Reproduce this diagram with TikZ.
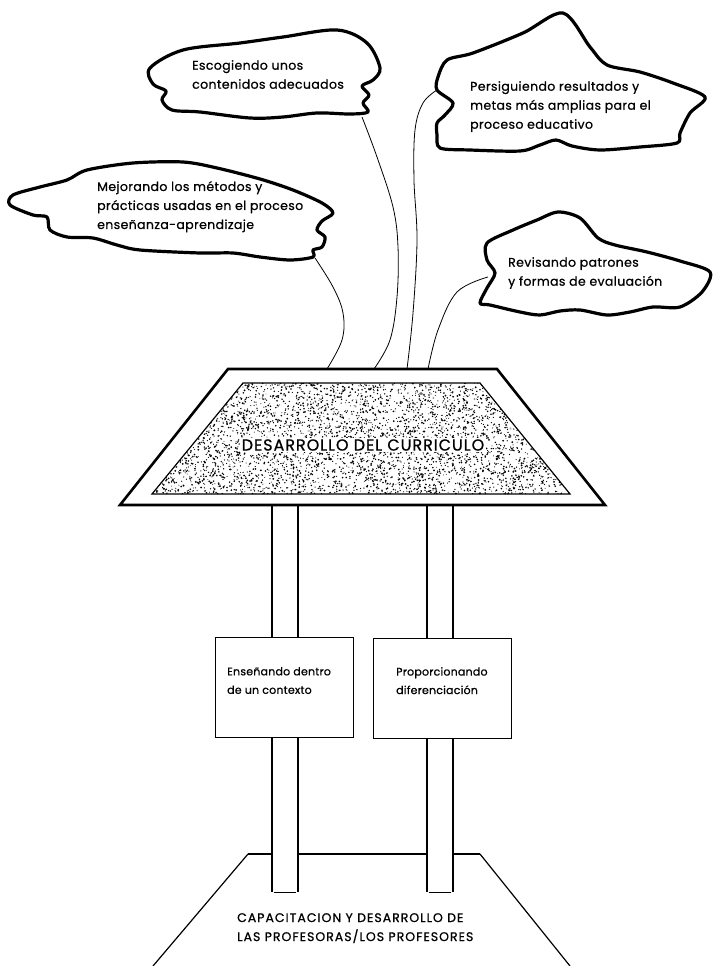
\documentclass[tikz,border=0pt]{standalone}
\usepackage{fontspec}
\setmainfont{Poppins}[FakeBold=0.7]
\begin{document}
\begin{tikzpicture}[x=1pt,y=-1pt,
  cloud/.style={line width=3.2pt, line join=round, line cap=round},
  link/.style={line width=0.8pt},
  txt/.style={font=\fontsize{12.5}{19}\selectfont\addfontfeature{LetterSpace=3}, align=left, anchor=north west, inner sep=0pt},
  boxtxt/.style={font=\fontsize{11}{18.5}\selectfont\addfontfeature{LetterSpace=2}, align=left, anchor=north west, inner sep=0pt},
  pillarside/.style={line width=1.8pt},
  plate/.style={draw, line width=1.4pt, fill=white},
  rim/.style={line width=2.6pt, line join=miter},
  thin/.style={line width=1.2pt}]
\useasboundingbox (0,0) rectangle (713,966);
\fill[white] (0,0) rectangle (713,966);

% ---------- clouds ----------
\draw[cloud] plot[smooth cycle, tension=0.55] coordinates {
 (150,68) (183,50) (240,43) (283,37) (337,30) (367,43) (380,68) (373,80)
 (362,86) (369,95) (363,103) (368,112) (350,114) (317,113) (283,117)
 (250,118) (200,112) (172,110) (162,100) (166,91) (153,84)};
\draw[cloud] plot[smooth cycle, tension=0.5] coordinates {
 (563,13) (590,47) (607,65) (640,72) (673,83) (705,97) (690,113) (680,133)
 (677,143) (640,147) (600,150) (572,146) (556,140) (540,145) (520,151)
 (470,150) (440,148) (437,135) (437,123) (445,115) (453,103) (437,90)
 (438,77) (447,60) (473,53) (523,33)};
\draw[cloud] plot[smooth cycle, tension=0.5] coordinates {
 (13,195) (40,187) (67,180) (87,170) (133,163) (183,162) (217,168)
 (260,179) (293,190) (322,203) (333,213) (322,221) (317,230) (325,237)
 (322,247) (313,250) (313,257) (290,260) (260,257) (233,253) (200,253)
 (140,250) (117,245) (93,238) (67,237) (50,230) (47,217) (33,215) (10,205)};
\draw[cloud] plot[smooth cycle, tension=0.5] coordinates {
 (537,220) (558,212) (580,218) (598,238) (615,245) (647,252) (680,261)
 (710,272) (702,292) (680,307) (653,307) (630,312) (607,315) (580,310)
 (560,311) (540,315) (520,312) (490,305) (480,303) (487,288) (495,273)
 (487,260) (487,243) (513,230)};

\node[txt] (t1) at (192,60) {Escogiendo unos\\contenidos adecuados};
\node[txt] (t2) at (470,81) {Persiguiendo resultados y\\metas más amplias para el\\proceso educativo};
\node[txt] (t3) at (97,181) {Mejorando los métodos y\\prácticas usadas en el proceso\\enseñanza-aprendizaje};
\node[txt] (t4) at (508,257) {Revisando patrones\\y formas de evaluación};

% ---------- connector ends ----------
\coordinate (c1) at (362,117);
\coordinate (c2) at (437,90);
\coordinate (c3) at (315,258);
\coordinate (c4) at (488,277);
\coordinate (p1) at (374,369);
\coordinate (p2) at (407,369);
\coordinate (p3) at (327,369);
\coordinate (p4) at (428,369);

\draw[link] plot[smooth, tension=0.6] coordinates {(c1) (377,157) (393,207) (398,247) (397,297) (390,340) (p1)};
\draw[link] plot[smooth, tension=0.6] coordinates {(c2) (423,103) (415,130) (414,180) (417,240) (413,313) (p2)};
\draw[link] plot[smooth, tension=0.6] coordinates {(c3) (333,287) (343,313) (342,340) (p3)};
\draw[link] plot[smooth, tension=0.6] coordinates {(c4) (457,292) (438,330) (p4)};

% ---------- platform ----------
\draw[rim] (120,505) -- (228,369) -- (497,369) -- (605,505) -- cycle;
\begin{scope}
\clip (243,383) -- (480,383) -- (570,494) -- (152,494) -- cycle;
\pgfmathsetseed{7}
\foreach \i in {1,...,4800}{
  \pgfmathsetmacro{\rr}{0.45+0.55*rnd}
  \fill ({152+418*rnd},{383+111*rnd}) circle (\rr pt);
}
\end{scope}
\draw[thin] (243,383) -- (480,383) -- (570,494) -- (152,494) -- cycle;
\node[fill=white, inner sep=1.5pt, font=\fontsize{16}{18}\selectfont\addfontfeature{LetterSpace=6}] (title) at (363,445) {DESARROLLO DEL CURRICULO};

% ---------- base ----------
\draw[thin] (248,854) -- (480,854);
\draw[thin] (248,854) -- (153,966);
\draw[thin] (480,854) -- (570,966);

% ---------- pillars ----------
\fill[white] (272,507) rectangle (298,892);
\fill[white] (427,507) rectangle (453,892);
\draw[pillarside] (272,506) -- (272,892) (298,506) -- (298,892);
\draw[pillarside] (427,506) -- (427,892) (453,506) -- (453,892);
\draw[line width=0.5pt] (274,892) -- (296,892) (429,892) -- (451,892);

% ---------- boxes ----------
\node[plate, minimum width=138pt, minimum height=100pt, anchor=north west] (bl) at (215,637) {};
\node[plate, minimum width=138pt, minimum height=100pt, anchor=north west] (br) at (373,638) {};
\node[boxtxt] (tb1) at (227,667) {Enseñando dentro\\de un contexto};
\node[boxtxt] (tb2) at (396,667) {Proporcionando\\diferenciación};

\node[txt, font=\fontsize{12.5}{19}\selectfont\addfontfeature{LetterSpace=8}] (tbase) at (237,913) {CAPACITACION Y DESARROLLO DE\\LAS PROFESORAS/LOS PROFESORES};
\end{tikzpicture}
\end{document}
